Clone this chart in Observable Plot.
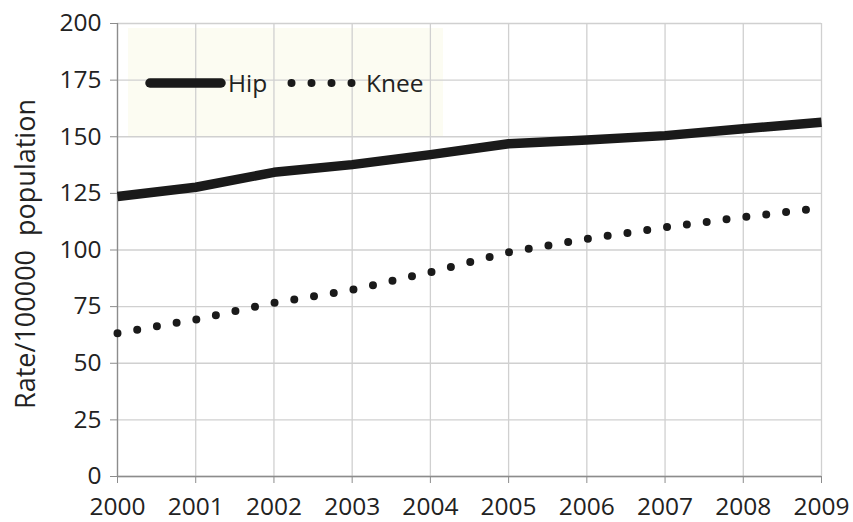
<!DOCTYPE html>
<html>
<head>
<meta charset="utf-8">
<script src="https://cdn.jsdelivr.net/npm/d3@7"></script>
<script src="https://cdn.jsdelivr.net/npm/@observablehq/plot@0.6"></script>
<style>
  html, body { margin: 0; padding: 0; background: #fff; }
  #wrap { position: relative; width: 853px; height: 522px; font-family: "Open Sans", sans-serif; }
  #legendbox { position: absolute; left: 128px; top: 28px; width: 315px; height: 108px; background: #fcfcf2; z-index: 0; }
  #chart { position: absolute; left: 0; top: 0; z-index: 1; }
  #chart svg text { font-size: 24.5px !important; }
  #chart svg g[aria-label="text"] text { font-size: 27px !important; }
  #legend { position: absolute; left: 0; top: 0; z-index: 2; }
</style>
</head>
<body>
<div id="wrap">
  <div id="legendbox"></div>
  <div id="chart"></div>
  <svg id="legend" width="853" height="140"></svg>
</div>
<script>
const years = [2000, 2001, 2002, 2003, 2004, 2005, 2006, 2007, 2008, 2009];
const hip  = [123.6, 127.7, 134.3, 137.7, 142.1, 146.9, 148.6, 150.5, 153.5, 156.4];
const knee = [63.3, 69.3, 76.7, 82.4, 90.2, 99.0, 104.9, 110.0, 114.5, 118.6];
const yTicks = [0, 25, 50, 75, 100, 125, 150, 175, 200];
const seriesNames = ["Hip", "Knee"];
const yLabel = "Rate/100000\u00a0 population";

const hipData = years.map((y, i) => ({year: y, value: hip[i]}));
const kneeData = years.map((y, i) => ({year: y, value: knee[i]}));

const chart = Plot.plot({
  width: 853,
  height: 522,
  marginLeft: 117,
  marginRight: 32,
  marginTop: 23,
  marginBottom: 46,
  style: {background: "transparent", fontFamily: "Open Sans, sans-serif", fontSize: "24px", color: "#222"},
  x: {domain: [2000, 2009], ticks: years, tickFormat: d => String(d), label: null},
  y: {domain: [0, 200], ticks: yTicks, label: null},
  marks: [
    Plot.gridX(years, {stroke: "#d0d0d0", strokeOpacity: 1, strokeWidth: 1.3}),
    Plot.gridY(yTicks, {stroke: "#d0d0d0", strokeOpacity: 1, strokeWidth: 1.3}),
    Plot.ruleX([2000], {stroke: "#8c8c8c", strokeWidth: 1.3}),
    Plot.ruleY([0], {stroke: "#8c8c8c", strokeWidth: 1.3}),
    Plot.axisX(years, {tickSize: 7, tickPadding: 14, stroke: "#8c8c8c", fill: "#222", tickFormat: d => String(d), label: null}),
    Plot.axisY(yTicks, {tickSize: 7, tickPadding: 9, stroke: "#8c8c8c", fill: "#222", label: null}),
    Plot.line(kneeData, {x: "year", y: "value", stroke: "#1a1a1a", strokeWidth: 8, strokeLinecap: "round", strokeDasharray: "0 20"}),
    Plot.line(hipData, {x: "year", y: "value", stroke: "#1a1a1a", strokeWidth: 9.5, strokeLinecap: "butt", strokeLinejoin: "round"}),
    Plot.text([yLabel], {frameAnchor: "left", dx: -91, dy: 4, rotate: -90, fill: "#222", textAnchor: "middle"})
  ]
});
document.getElementById("chart").appendChild(chart);

// legend
const lg = d3.select("#legend");
lg.append("line").attr("x1", 150).attr("x2", 221).attr("y1", 83).attr("y2", 83)
  .attr("stroke", "#1a1a1a").attr("stroke-width", 9.5).attr("stroke-linecap", "round");
lg.append("text").attr("x", 228).attr("y", 83).attr("dy", "0.35em")
  .attr("font-family", "Open Sans, sans-serif").attr("font-size", 24.5).attr("fill", "#222").text(seriesNames[0]);
lg.append("line").attr("x1", 291.5).attr("x2", 352.5).attr("y1", 83).attr("y2", 83)
  .attr("stroke", "#1a1a1a").attr("stroke-width", 8).attr("stroke-linecap", "round").attr("stroke-dasharray", "0 20");
lg.append("text").attr("x", 366).attr("y", 83).attr("dy", "0.35em")
  .attr("font-family", "Open Sans, sans-serif").attr("font-size", 24.5).attr("fill", "#222").text(seriesNames[1]);
</script>
</body>
</html>
